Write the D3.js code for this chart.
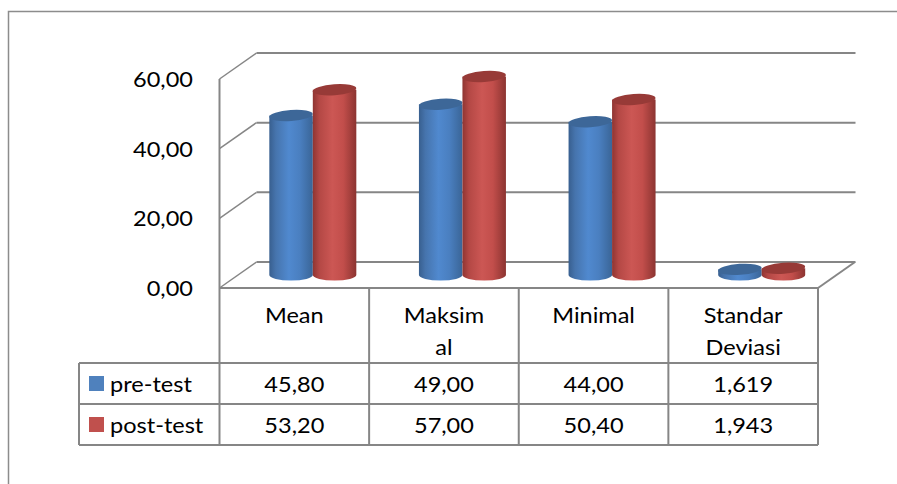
<!DOCTYPE html>
<html><head><meta charset="utf-8">
<script src="https://cdn.jsdelivr.net/npm/d3@7"></script>
<style>html,body{margin:0;padding:0;background:#fff;}svg{display:block;}</style>
</head><body>
<script>
const categories = ["Mean", "Maksimal", "Minimal", "Standar Deviasi"];
const categoryLines = [["Mean"], ["Maksim", "al"], ["Minimal"], ["Standar", "Deviasi"]];
const seriesNames = ["pre-test", "post-test"];
const preTest = [45.80, 49.00, 44.00, 1.619];
const postTest = [53.20, 57.00, 50.40, 1.943];
const preLabels = ["45,80", "49,00", "44,00", "1,619"];
const postLabels = ["53,20", "57,00", "50,40", "1,943"];
const yTicks = [0, 20, 40, 60];

const W = 897, H = 484;
const svg = d3.select("body").append("svg").attr("width", W).attr("height", H);
const FONT = "Lato, 'Open Sans', sans-serif";
const GRID = "#868686";
const SX = 1.07;

function txt(parent, tx, ty, s, anchor) {
  return parent.append("text")
    .attr("transform", `translate(${tx},${ty}) scale(${SX},1)`)
    .attr("text-anchor", anchor || "middle")
    .attr("font-family", FONT).attr("font-size", 22).attr("fill", "#000")
    .text(s);
}

// outer frame
svg.append("rect").attr("x", 8.5).attr("y", 11.5).attr("width", 1000).attr("height", 1000)
  .attr("fill", "none").attr("stroke", "#8c8c8c").attr("stroke-width", 1.5);

const x0 = 219.5, x1 = 818;
const dx = 37, dy = -26;
const x = d3.scaleBand().domain(categories).range([x0, x1]).paddingInner(0).paddingOuter(0);
const y = d3.scaleLinear().domain([0, 60]).range([288, 79]);
const xs = d3.scaleBand().domain(seriesNames).range([0, 87]);

const defs = svg.append("defs");
function grad(id, stops) {
  const g = defs.append("linearGradient").attr("id", id).attr("x1", "0%").attr("x2", "100%").attr("y1", "0%").attr("y2", "0%");
  stops.forEach(s => g.append("stop").attr("offset", s[0]).attr("stop-color", s[1]));
}
grad("gBlue", [["0%", "#385f8f"], ["15%", "#4674ad"], ["45%", "#5089cf"], ["70%", "#4a7fc0"], ["100%", "#3a6597"]]);
grad("gRed", [["0%", "#8f3532"], ["15%", "#b44845"], ["45%", "#cc5754"], ["70%", "#c24e4b"], ["100%", "#8c3431"]]);
const colors = {"pre-test": {body: "url(#gBlue)", top: "#3d6798", sw: "#4f81bd"},
                "post-test": {body: "url(#gRed)", top: "#973a37", sw: "#c0504d"}};

// back wall gridlines + left side diagonals
const g = svg.append("g");
yTicks.forEach(t => {
  g.append("line").attr("x1", x0 + dx).attr("x2", x1 + dx + 0.5).attr("y1", y(t) + dy).attr("y2", y(t) + dy)
    .attr("stroke", GRID).attr("stroke-width", 2);
  g.append("line").attr("x1", x0).attr("y1", y(t)).attr("x2", x0 + dx).attr("y2", y(t) + dy)
    .attr("stroke", GRID).attr("stroke-width", 1.5);
});
g.append("line").attr("x1", x0).attr("x2", x0).attr("y1", y(60)).attr("y2", y(0))
  .attr("stroke", GRID).attr("stroke-width", 2);
g.append("line").attr("x1", x1).attr("y1", y(0)).attr("x2", x1 + dx).attr("y2", y(0) + dy)
  .attr("stroke", GRID).attr("stroke-width", 2);

yTicks.forEach(t => txt(g, 193, y(t) + 8, d3.format(".2f")(t).replace(".", ","), "end"));

// cylinders
const rx = xs.bandwidth() / 2, ry = 5.5;
const data = [];
categories.forEach((c, i) => {
  data.push({c, s: "pre-test", v: preTest[i]});
  data.push({c, s: "post-test", v: postTest[i]});
});
const cyl = svg.append("g");
data.forEach(d => {
  const cx = x(d.c) + x.bandwidth() / 2 - 43.5 + xs(d.s) + rx + dx / 2;
  const yb = y(0) + dy / 2;
  const yt = y(d.v) + dy / 2;
  cyl.append("path")
    .attr("d", `M${cx - rx},${yt} L${cx - rx},${yb} A${rx},${ry} 0 0 0 ${cx + rx},${yb} L${cx + rx},${yt} Z`)
    .attr("fill", colors[d.s].body);
  cyl.append("ellipse").attr("cx", cx).attr("cy", yt).attr("rx", rx).attr("ry", ry)
    .attr("transform", `rotate(-4, ${cx}, ${yt})`)
    .attr("fill", colors[d.s].top);
});

// data table
const tb = svg.append("g");
const legX = 79;
const lw = 2;
tb.append("line").attr("x1", x0).attr("x2", x1).attr("y1", 288).attr("y2", 288).attr("stroke", GRID).attr("stroke-width", lw);
[363, 404, 445].forEach(yy => tb.append("line").attr("x1", legX).attr("x2", x1).attr("y1", yy).attr("y2", yy).attr("stroke", GRID).attr("stroke-width", lw));
tb.append("line").attr("x1", legX).attr("x2", legX).attr("y1", 363).attr("y2", 445).attr("stroke", GRID).attr("stroke-width", lw);
categories.forEach(c => tb.append("line").attr("x1", x(c)).attr("x2", x(c)).attr("y1", 288).attr("y2", 445).attr("stroke", GRID).attr("stroke-width", lw));
tb.append("line").attr("x1", x1).attr("x2", x1).attr("y1", 288).attr("y2", 445).attr("stroke", GRID).attr("stroke-width", lw);

categories.forEach((c, i) => {
  const cx = x(c) + x.bandwidth() / 2;
  categoryLines[i].forEach((ln, j) => txt(tb, cx, 323 + j * 32, ln));
  txt(tb, cx, 392, preLabels[i]);
  txt(tb, cx, 433, postLabels[i]);
});
seriesNames.forEach((s, i) => {
  const yy = [376, 417][i];
  tb.append("rect").attr("x", 89).attr("y", yy).attr("width", 15).attr("height", 15).attr("fill", colors[s].sw);
  txt(tb, 110, [392, 433][i], s, "start");
});
</script>
</body></html>
